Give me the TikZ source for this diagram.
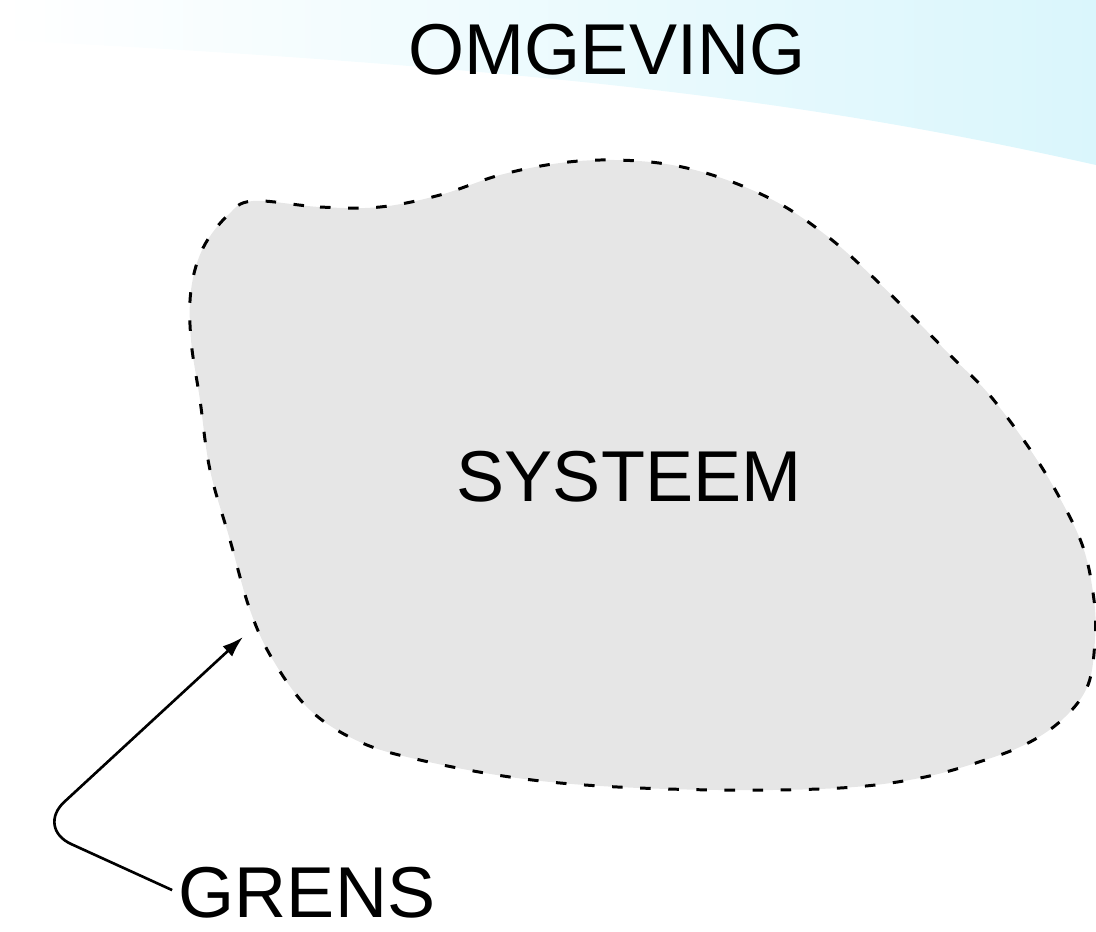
\documentclass[tikz,border=0pt]{standalone}
\usepackage{fontspec}
\setmainfont{Liberation Sans}
\usetikzlibrary{arrows.meta}
\definecolor{lichtgrijs}{RGB}{230,230,230}
\definecolor{lichtblauw}{RGB}{218,246,252}

\begin{document}
\begin{tikzpicture}[x=0.02cm, y=-0.02cm,
    tekst/.style={font=\fontsize{41}{49}\selectfont, inner sep=0pt}]

	\useasboundingbox (0,0) rectangle (1096,931);

	% Achtergrond (lichtblauwe band)
	\shade[left color=white, right color=lichtblauw] (0,0) -- (1096,0) -- (1096,165) .. controls (850,110) and (600,70) .. (0,40) -- cycle;

	% Systeem met gestippelde grens
	\draw[fill=lichtgrijs, line width=1.7pt, dash pattern=on 6pt off 10pt]
		plot[smooth cycle, tension=0.6] coordinates {
			(253,201) (320,207) (380,207) (440,195) (500,175) (560,163) (615,160)
			(672,165) (727,180) (782,205) (832,240) (876,280) (916,320) (952,357)
			(987,392) (1025,442) (1057,493) (1083,547) (1094,600) (1095,640)
			(1088,685) (1065,717) (1030,742) (985,760) (920,778) (840,788) (720,790)
			(600,786) (510,777) (420,760) (360,742) (310,710) (273,660) (250,610)
			(230,540) (210,470) (200,400) (191,340) (191,290) (203,248) (228,215)};

	% Teksten
	\node[tekst] (omgeving) at (607,50) {OMGEVING};
	\node[tekst] (systeem) at (629,477) {SYSTEEM};
	\node[tekst] (grens) at (307,893) {GRENS};

	% Pijl naar de grens
	\coordinate (punt) at (243,637);
	\draw[-{Latex[length=12pt,width=8pt]}, line width=1.5pt, rounded corners=22pt, shorten <=4pt]
		(grens.west) -- (36,828) -- (punt);

\end{tikzpicture}
\end{document}
